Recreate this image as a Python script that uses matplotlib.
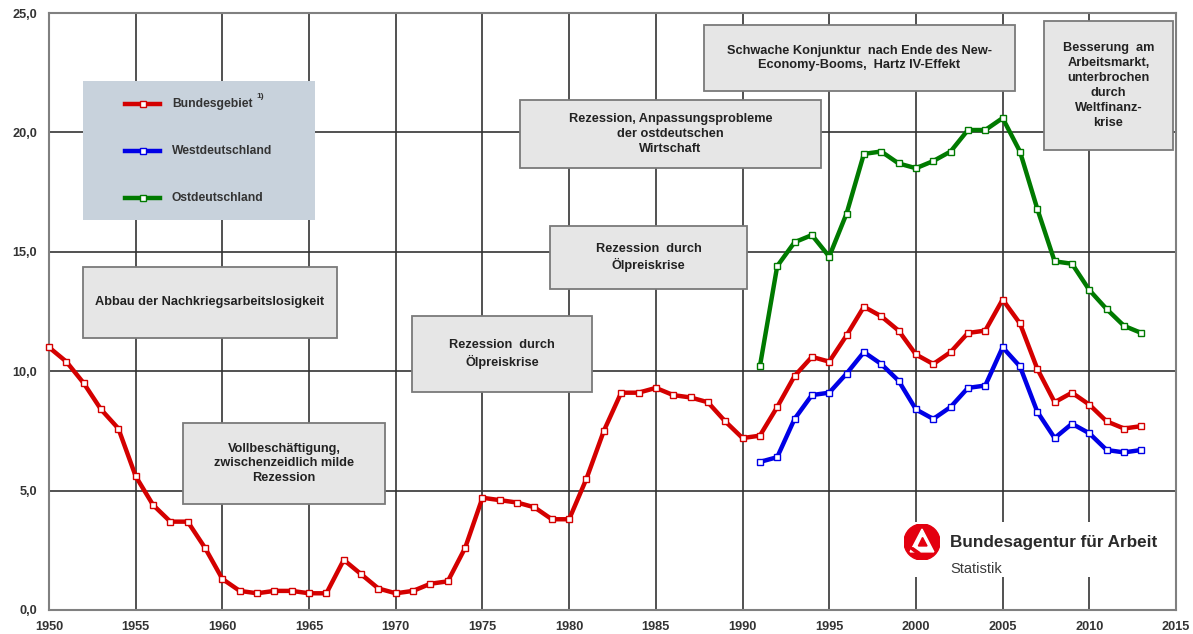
import matplotlib
matplotlib.use("Agg")
import matplotlib.pyplot as plt
from matplotlib.patches import Rectangle, Circle, Polygon
from matplotlib.lines import Line2D

plt.rcParams["font.family"] = ["Liberation Sans", "DejaVu Sans"]

# Arbeitslosenquote in % (abhaengige zivile Erwerbspersonen)
years_bund = list(range(1950, 2014))
quote_bund = [
    11.0, 10.4, 9.5, 8.4, 7.6, 5.6, 4.4, 3.7, 3.7, 2.6,
    1.3, 0.8, 0.7, 0.8, 0.8, 0.7, 0.7, 2.1, 1.5, 0.9,
    0.7, 0.8, 1.1, 1.2, 2.6, 4.7, 4.6, 4.5, 4.3, 3.8,
    3.8, 5.5, 7.5, 9.1, 9.1, 9.3, 9.0, 8.9, 8.7, 7.9,
    7.2, 7.3, 8.5, 9.8, 10.6, 10.4, 11.5, 12.7, 12.3, 11.7,
    10.7, 10.3, 10.8, 11.6, 11.7, 13.0, 12.0, 10.1, 8.7, 9.1,
    8.6, 7.9, 7.6, 7.7,
]
years_ost_west = list(range(1991, 2014))
quote_west = [
    6.2, 6.4, 8.0, 9.0, 9.1, 9.9, 10.8, 10.3, 9.6, 8.4,
    8.0, 8.5, 9.3, 9.4, 11.0, 10.2, 8.3, 7.2, 7.8, 7.4,
    6.7, 6.6, 6.7,
]
quote_ost = [
    10.2, 14.4, 15.4, 15.7, 14.8, 16.6, 19.1, 19.2, 18.7, 18.5,
    18.8, 19.2, 20.1, 20.1, 20.6, 19.2, 16.8, 14.6, 14.5, 13.4,
    12.6, 11.9, 11.6,
]
series_names = ["Bundesgebiet", "Westdeutschland", "Ostdeutschland"]
series_colors = ["#d40000", "#0000e6", "#007a00"]

x_ticks = list(range(1950, 2016, 5))
y_ticks = [0, 5, 10, 15, 20, 25]
y_tick_labels = ["0,0", "5,0", "10,0", "15,0", "20,0", "25,0"]

notes = [
    ((83, 267, 337, 338), "Abbau der Nachkriegsarbeitslosigkeit"),
    ((183, 423, 385, 504), "Vollbeschäftigung,\nzwischenzeidlich milde\nRezession"),
    ((412, 316, 592, 392), "Rezession  durch\nÖlpreiskrise"),
    ((550, 226, 747, 289), "Rezession  durch\nÖlpreiskrise"),
    ((520, 100, 821, 168), "Rezession, Anpassungsprobleme\nder ostdeutschen\nWirtschaft"),
    ((704, 25, 1015, 91), "Schwache Konjunktur  nach Ende des New-\nEconomy-Booms,  Hartz IV-Effekt"),
    ((1044, 21, 1173, 150), "Besserung  am\nArbeitsmarkt,\nunterbrochen\ndurch\nWeltfinanz-\nkrise"),
]

W, H = 1193, 634
AX_L, AX_R, AX_T, AX_B = 49, 1176, 13, 610


def fx(px):
    return (px - AX_L) / (AX_R - AX_L)


def fy(py):
    return (AX_B - py) / (AX_B - AX_T)


fig = plt.figure(figsize=(W / 100, H / 100), dpi=100)
ax = fig.add_axes([AX_L / W, (H - AX_B) / H, (AX_R - AX_L) / W, (AX_B - AX_T) / H])

ax.set_xlim(1950, 2015)
ax.set_ylim(0, 25)
ax.set_xticks(x_ticks)
ax.set_yticks(y_ticks)
ax.set_yticklabels(y_tick_labels)
ax.tick_params(length=0, labelsize=9.2, colors="#333333")
ax.tick_params(axis="x", pad=8)
ax.tick_params(axis="y", pad=8.5)
for lab in ax.get_xticklabels() + ax.get_yticklabels():
    lab.set_fontweight("bold")
ax.grid(True, color="#333333", linewidth=1.2, zorder=0)
ax.set_axisbelow(True)
for sp in ax.spines.values():
    sp.set_color("#808080")
    sp.set_linewidth(1.5)

line_kw = dict(linewidth=3.2, marker="s", markersize=5, markerfacecolor="white",
               markeredgewidth=1.0, zorder=5, clip_on=False)
ax.plot(years_bund, quote_bund, color=series_colors[0], markeredgecolor=series_colors[0], **line_kw)
ax.plot(years_ost_west, quote_west, color=series_colors[1], markeredgecolor=series_colors[1], **line_kw)
ax.plot(years_ost_west, quote_ost, color=series_colors[2], markeredgecolor=series_colors[2], **line_kw)

# annotation boxes
for (x0, y0, x1, y1), txt in notes:
    ax.add_patch(Rectangle((fx(x0), fy(y1)), fx(x1) - fx(x0), fy(y0) - fy(y1),
                           transform=ax.transAxes, facecolor="#e6e6e6",
                           edgecolor="#7a7a7a", linewidth=1.3, zorder=3))
    ax.text((fx(x0) + fx(x1)) / 2, (fy(y0) + fy(y1)) / 2, txt, transform=ax.transAxes,
            ha="center", va="center", fontsize=9.2, fontweight="bold", color="#222222",
            linespacing=1.32, zorder=4)

# legend box
ax.add_patch(Rectangle((fx(83), fy(220)), fx(315) - fx(83), fy(81) - fy(220),
                       transform=ax.transAxes, facecolor="#c8d2dc", edgecolor="none", zorder=3))
for name, col, py in zip(series_names, series_colors, [104, 151, 198]):
    ax.add_line(Line2D([fx(125), fx(160)], [fy(py), fy(py)], transform=ax.transAxes,
                       color=col, linewidth=3.2, zorder=4))
    ax.add_line(Line2D([fx(142.5)], [fy(py)], transform=ax.transAxes, marker="s",
                       markersize=5, markerfacecolor="white", markeredgecolor=col,
                       markeredgewidth=1.0, zorder=5))
    ax.text(fx(172), fy(py), name, transform=ax.transAxes, ha="left", va="center",
            fontsize=8.7, fontweight="bold", color="#333333", zorder=4)
ax.text(fx(256), fy(96), "1)", transform=ax.transAxes, ha="left", va="center",
        fontsize=6, fontweight="bold", color="#333333", zorder=4)

# Bundesagentur logo area
ax.add_patch(Rectangle((fx(895), fy(577)), fx(1165) - fx(895), fy(522) - fy(577),
                       transform=ax.transAxes, facecolor="white", edgecolor="none", zorder=2))
ax.text(fx(950), fy(543), "Bundesagentur für Arbeit", transform=ax.transAxes,
        ha="left", va="center", fontsize=12.3, fontweight="bold", color="#2a2a2a", zorder=4)
ax.text(fx(950), fy(569), "Statistik", transform=ax.transAxes,
        ha="left", va="center", fontsize=10.5, color="#3a3a3a", zorder=4)

cx, cy, r = 922, 542, 18
lax = fig.add_axes([(cx - r) / W, (H - cy - r) / H, 2 * r / W, 2 * r / H])
lax.set_xlim(-1, 1)
lax.set_ylim(-1, 1)
lax.set_aspect("equal")
lax.axis("off")
red = "#e3000f"
lax.add_patch(Circle((0, 0), 1.0, color=red))
lax.add_patch(Polygon([(-0.66, -0.55), (0.0, 0.72), (0.66, -0.55)], color="white"))
lax.add_patch(Polygon([(-0.2, -0.22), (0.03, 0.25), (0.28, -0.22)], color=red))
lax.add_patch(Polygon([(-0.7, -0.32), (-0.5, -0.32), (-0.1, -0.6), (-0.35, -0.6)], color=red))

fig.savefig("out.png", dpi=100)
